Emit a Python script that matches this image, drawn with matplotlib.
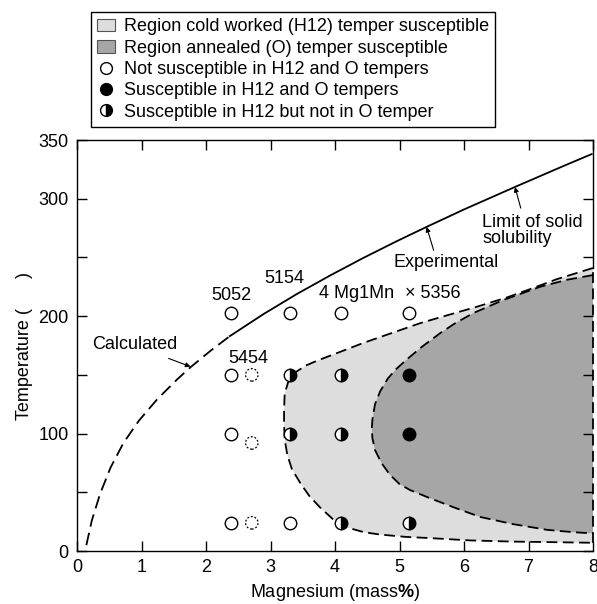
import matplotlib
matplotlib.use("Agg")
import matplotlib.pyplot as plt
from matplotlib.patches import Patch
from matplotlib.lines import Line2D

plt.rcParams['font.family'] = ['Liberation Sans', 'DejaVu Sans']
plt.rcParams['mathtext.fontset'] = 'custom'
plt.rcParams['mathtext.rm'] = 'Liberation Sans'
plt.rcParams['mathtext.bf'] = 'Liberation Sans:bold'

# solubility limit, calculated (dashed) and experimental (solid)
calc_mg = [0.145, 0.23, 0.36, 0.52, 0.72, 0.96, 1.24, 1.55, 1.76, 2.07, 2.37]
calc_t = [5, 26, 49, 71, 92, 111, 129, 146, 156.5, 170.5, 183]
exp_mg = [2.37, 2.89, 3.41, 3.92, 4.44, 4.96, 5.42, 5.99, 6.79, 7.54, 7.98]
exp_t = [183, 201.7, 218.9, 234.5, 249.6, 263.9, 276, 290.6, 310, 327.8, 338]

# boundary of H12 susceptible region (top right -> left -> bottom right)
h12_mg = [8.0, 7.44, 7.0, 6.67, 6.2, 5.63, 5.32, 4.9, 4.43, 4.1, 3.72, 3.55,
          3.38, 3.28, 3.22, 3.21, 3.21, 3.22, 3.26, 3.33, 3.46, 3.6, 3.77,
          3.97, 4.19, 4.45, 4.7, 5.1, 5.47, 6.1, 6.76, 7.4, 8.0]
h12_t = [241, 231.5, 222.5, 216, 208, 199, 194, 186, 177, 170, 162, 158,
         152, 145, 134, 120, 108, 95, 82, 70, 58, 47, 37,
         27, 20, 16, 14, 12, 11, 9, 8, 7.5, 7]

# boundary of O susceptible region
o_mg = [8.0, 7.6, 7.18, 6.6, 6.14, 5.85, 5.63, 5.35, 5.11, 4.95, 4.82, 4.7,
        4.62, 4.58, 4.57, 4.58, 4.62, 4.72, 4.85, 5.0, 5.16, 5.47, 5.85,
        6.25, 6.75, 7.29, 7.7, 8.0]
o_t = [235, 231, 225, 213.5, 202.5, 193.5, 185.5, 174, 163, 155, 147, 136,
       125, 112, 104, 96, 86, 75, 65, 57, 52, 45, 37,
       29, 23, 18, 16, 15]

# test points
open_mg = [2.39, 2.39, 2.39, 3.31, 2.39, 3.31, 4.09, 5.15]
open_t = [150, 100, 24, 24, 203, 203, 203, 203]
dotted_mg = [2.71, 2.71, 2.71]
dotted_t = [150, 92, 24]
full_mg = [5.15, 5.15]
full_t = [150, 100]
half_mg = [3.31, 3.31, 4.09, 4.09, 4.09, 5.15]
half_t = [150, 100, 150, 100, 24, 24]

fig = plt.figure(figsize=(5.97, 6.04), dpi=100)
ax = fig.add_axes([77/597, 53/604, 516/597, 411/604])

light = '#dddddd'
dark = '#a6a6a6'
ax.fill(h12_mg, h12_t, color=light, lw=0, zorder=1)
ax.fill(o_mg, o_t, color=dark, lw=0, zorder=1)

dash = dict(color='black', lw=1.3, dashes=(6, 3), zorder=2)
ax.plot(h12_mg, h12_t, **dash)
ax.plot(o_mg, o_t, **dash)
ax.plot([8, 8], [7, 241], clip_on=False, **dash)
ax.plot(calc_mg, calc_t, color='black', lw=1.3, dashes=(7, 3.5), zorder=2)
ax.plot(exp_mg, exp_t, color='black', lw=1.3, zorder=2)

ms = 9
ax.plot(open_mg, open_t, 'o', ms=ms, mfc='white', mec='black', mew=1, zorder=3)
ax.scatter(dotted_mg, dotted_t, s=ms**2, facecolors='white', edgecolors='black',
           linewidths=0.9, linestyles=(0, (1.5, 1.5)), zorder=3)
ax.plot(full_mg, full_t, 'o', ms=ms, mfc='black', mec='black', zorder=3)
ax.plot(half_mg, half_t, 'o', ms=ms, fillstyle='right', mfc='black',
        mfcalt='white', mec='black', mew=1, zorder=3)

fs = 13
ax.text(2.39, 218, '5052', ha='center', va='center', fontsize=fs)
ax.text(2.91, 232, '5154', ha='left', va='center', fontsize=fs)
ax.text(3.75, 219, '4 Mg1Mn', ha='left', va='center', fontsize=fs)
ax.text(5.09, 219, '\u00d7 5356', ha='left', va='center', fontsize=fs)
ax.text(2.34, 164, '5454', ha='left', va='center', fontsize=fs)

ap = dict(arrowstyle='-|>', lw=0.8, color='black', mutation_scale=7,
          shrinkA=0, shrinkB=0)
ax.text(0.23, 176, 'Calculated', ha='left', va='center', fontsize=fs)
ax.annotate('', xy=(1.76, 157), xytext=(1.42, 164), arrowprops=ap)
ax.text(4.91, 246, 'Experimental', ha='left', va='center', fontsize=fs)
ax.annotate('', xy=(5.42, 276), xytext=(5.53, 256), arrowprops=ap)
ax.text(6.28, 273, 'Limit of solid\nsolubility', ha='left', va='center',
        fontsize=fs, linespacing=0.95)
ax.annotate('', xy=(6.79, 310), xytext=(6.88, 292), arrowprops=ap)

ax.set_xlim(0, 8)
ax.set_ylim(0, 350)
ax.set_xticks(range(9))
ax.set_yticks([0, 50, 100, 150, 200, 250, 300, 350])
ax.set_yticklabels(['0', '', '100', '', '200', '', '300', '350'])
ax.tick_params(direction='in', length=7, width=1, labelsize=fs,
               top=True, right=True, pad=6)
for s in ax.spines.values():
    s.set_linewidth(1)
ax.spines['right'].set_bounds(241, 350)

ax.set_xlabel('Magnesium (mass$\\mathbf{\\%}$)', fontsize=fs, labelpad=4)
ax.set_ylabel('Temperature (      )', fontsize=fs, labelpad=4)

handles = [
    Patch(facecolor=light, edgecolor='#555555', lw=0.8),
    Patch(facecolor=dark, edgecolor='#555555', lw=0.8),
    Line2D([], [], ls='', marker='o', ms=8.5, mfc='white', mec='black'),
    Line2D([], [], ls='', marker='o', ms=8.5, mfc='black', mec='black'),
    Line2D([], [], ls='', marker='o', ms=8.5, fillstyle='right', mfc='black',
           mfcalt='white', mec='black'),
]
labels = [
    'Region cold worked (H12) temper susceptible',
    'Region annealed (O) temper susceptible',
    'Not susceptible in H12 and O tempers',
    'Susceptible in H12 and O tempers',
    'Susceptible in H12 but not in O temper',
]
leg = fig.legend(handles, labels, loc='upper left',
                 bbox_to_anchor=(91/597, 1 - 12/604), fontsize=13,
                 frameon=True, fancybox=False, edgecolor='black',
                 framealpha=1, borderpad=0.35, labelspacing=0.24,
                 handlelength=1.0, handleheight=0.7, handletextpad=0.45,
                 borderaxespad=0)
leg.get_frame().set_linewidth(1)

fig.savefig('out.png', dpi=100)
